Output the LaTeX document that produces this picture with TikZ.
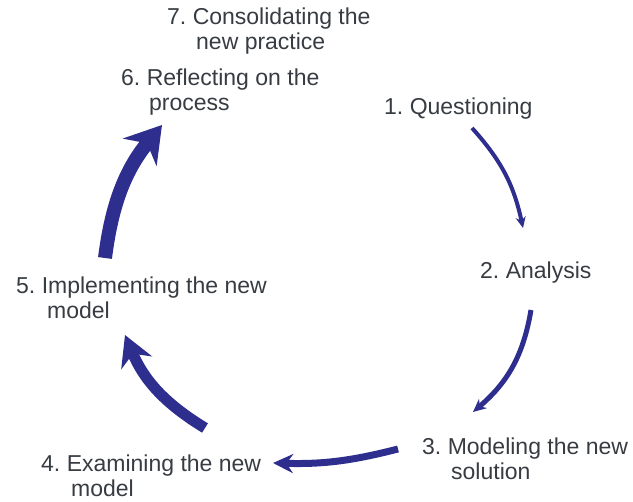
\documentclass[tikz,border=0pt]{standalone}
\usepackage{fontspec}
\setmainfont{Liberation Sans}
\usetikzlibrary{arrows.meta}
\definecolor{cyclearrow}{RGB}{46,46,142}
\definecolor{stagegray}{RGB}{55,60,66}
\frenchspacing
\begin{document}
\begin{tikzpicture}[x=1pt,y=1pt,
        stagetext/.style={anchor=base west,inner sep=0pt,align=left,text=stagegray,
            font=\fontsize{23}{24.5}\selectfont},
        cyclearc/.style={draw=cyclearrow,line width=#1}]
                \useasboundingbox (0,0) rectangle (633,502);
                % the seven stages (base = last line)
                \node[stagetext] (q1) at (384,387) {1. Questioning};
                \node[stagetext] (q2) at (480,223) {2. Analysis};
                \node[stagetext] (q3) at (422,22.5) {3. Modeling the new\\\hspace*{29pt}solution};
                \node[stagetext] (q4) at (41,5.5) {4. Examining the new\\\hspace*{30pt}model};
                \node[stagetext] (q5) at (16,183.5) {5. Implementing the new\\\hspace*{31pt}model};
                \node[stagetext] (q6) at (121,391.5) {6. Reflecting on the\\\hspace*{28pt}process};
                \node[stagetext] (q7) at (167,452.5) {7. Consolidating the\\\hspace*{29pt}new practice};
                % arrow ends
                \coordinate (s1) at (472,374); \coordinate (e1) at (523,274);
                \coordinate (s2) at (531,192); \coordinate (e2) at (473,90);
                \coordinate (s3) at (398,53);  \coordinate (e3) at (273,39);
                \coordinate (s4) at (205,74);  \coordinate (e4) at (125,167);
                \coordinate (s5) at (105,244); \coordinate (e5) at (162,377);
                % arrows, getting heavier round the cycle
                \draw[cyclearc=4pt,-{Stealth[length=11pt,width=10pt]}] (s1) to[bend left=15] (e1);
                \draw[cyclearc=5pt,-{Stealth[length=13pt,width=12pt]}] (s2) to[bend left=20] (e2);
                \draw[cyclearc=7pt,-{Stealth[length=20pt,width=19pt]}] (s3) to[bend left=8] (e3);
                \draw[cyclearc=11pt,-{Stealth[length=30pt,width=33pt]}] (s4) to[bend left=18] (e4);
                \draw[cyclearc=14pt,-{Stealth[length=35pt,width=43pt]}] (s5) to[bend left=16] (e5);
            \end{tikzpicture}
\end{document}
